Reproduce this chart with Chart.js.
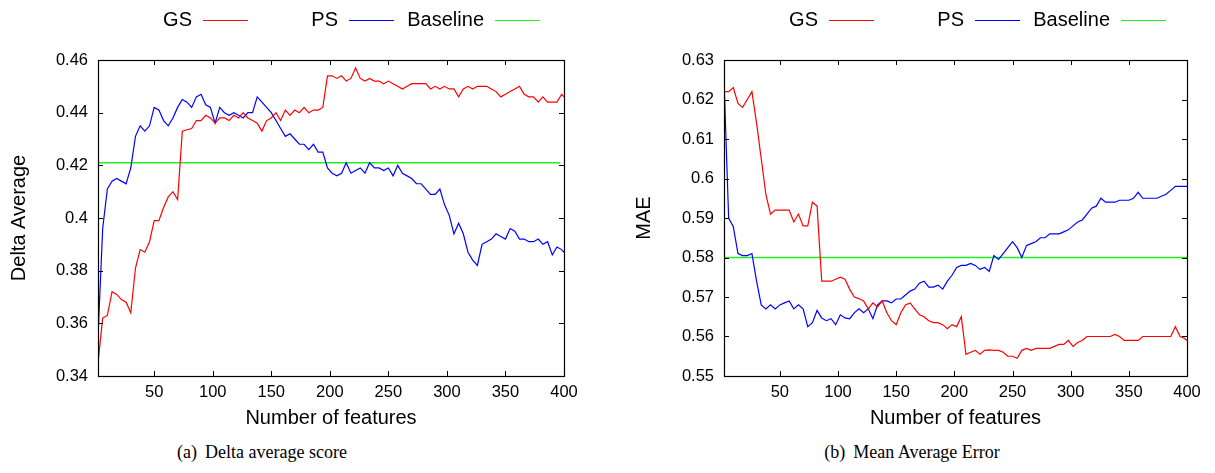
<!DOCTYPE html>
<html>
<head>
<meta charset="utf-8">
<script src="https://cdn.jsdelivr.net/npm/chart.js@4/dist/chart.umd.min.js"></script>
<style>
    body { margin: 0; background: #fff; width: 1215px; height: 473px; position: relative; overflow: hidden; }
    .box { position: absolute; top: 0; height: 440px; }
    .caption { position: absolute; top: 442px; width: 400px; text-align: center; line-height: 20px;
               font-family: "Liberation Serif", "Times New Roman", serif; font-size: 18px; color: #000; }
</style>
</head>
<body>
<div class="box" style="left:0;width:607px"><canvas id="delta-chart"></canvas></div>
<div class="box" style="left:607px;width:608px"><canvas id="mae-chart"></canvas></div>
<div class="caption" style="left:62px">(a)&nbsp;&thinsp;Delta average score</div>
<div class="caption" style="left:712px">(b)&nbsp;&thinsp;Mean Average Error</div>
<script>
// number of features: 2, 6, 10, ... 398, then 400
const features = Array.from({ length: 100 }, (_, i) => 2 + 4 * i).concat([400]);
const xTicks = [50, 100, 150, 200, 250, 300, 350, 400];

const deltaYTicks = ['0.34', '0.36', '0.38', '0.4', '0.42', '0.44', '0.46'];
const deltaBaseline = 0.421;
const deltaGS = [
    0.345, 0.362, 0.363, 0.372, 0.371, 0.369, 0.368, 0.364, 0.381, 0.388,
    0.387, 0.391, 0.399, 0.399, 0.404, 0.408, 0.410, 0.407, 0.433, 0.4335,
    0.434, 0.437, 0.437, 0.439, 0.438, 0.436, 0.438, 0.438, 0.437, 0.439,
    0.438, 0.440, 0.438, 0.437, 0.436, 0.433, 0.437, 0.438, 0.440, 0.437,
    0.441, 0.439, 0.441, 0.440, 0.442, 0.440, 0.441, 0.441, 0.442, 0.454,
    0.454, 0.453, 0.454, 0.452, 0.453, 0.457, 0.453, 0.452, 0.453, 0.452,
    0.452, 0.451, 0.452, 0.451, 0.450, 0.449, 0.450, 0.451, 0.451, 0.451,
    0.451, 0.449, 0.450, 0.449, 0.450, 0.449, 0.449, 0.446, 0.449, 0.450,
    0.449, 0.450, 0.450, 0.450, 0.449, 0.448, 0.446, 0.447, 0.448, 0.449,
    0.450, 0.447, 0.446, 0.446, 0.444, 0.446, 0.444, 0.444, 0.444, 0.447,
    0.446
];
const deltaPS = [
    0.355, 0.396, 0.411, 0.414, 0.415, 0.414, 0.413, 0.419, 0.431, 0.435,
    0.433, 0.435, 0.442, 0.441, 0.437, 0.435, 0.438, 0.442, 0.445, 0.444,
    0.442, 0.446, 0.447, 0.443, 0.442, 0.436, 0.442, 0.440, 0.439, 0.440,
    0.439, 0.438, 0.440, 0.440, 0.446, 0.444, 0.442, 0.440, 0.437, 0.434,
    0.431, 0.432, 0.430, 0.428, 0.428, 0.426, 0.428, 0.425, 0.425, 0.419,
    0.417, 0.416, 0.417, 0.421, 0.417, 0.418, 0.419, 0.417, 0.421, 0.419,
    0.419, 0.418, 0.419, 0.416, 0.420, 0.417, 0.416, 0.415, 0.413, 0.413,
    0.411, 0.409, 0.409, 0.411, 0.405, 0.401, 0.394, 0.398, 0.394, 0.387,
    0.384, 0.382, 0.390, 0.391, 0.392, 0.394, 0.393, 0.392, 0.396, 0.395,
    0.392, 0.392, 0.391, 0.391, 0.392, 0.390, 0.391, 0.386, 0.389, 0.388,
    0.387
];

const maeYTicks = ['0.55', '0.56', '0.57', '0.58', '0.59', '0.6', '0.61', '0.62', '0.63'];
const maeBaseline = 0.58;
const maeGS = [
    0.622, 0.622, 0.623, 0.619, 0.618, 0.620, 0.622, 0.614, 0.605, 0.596,
    0.591, 0.592, 0.592, 0.592, 0.592, 0.589, 0.591, 0.588, 0.588, 0.594,
    0.593, 0.574, 0.574, 0.574, 0.5745, 0.575, 0.5745, 0.572, 0.570, 0.5696,
    0.569, 0.567, 0.5685, 0.5675, 0.569, 0.566, 0.564, 0.563, 0.566, 0.568,
    0.5685, 0.567, 0.5655, 0.565, 0.564, 0.5635, 0.5635, 0.563, 0.562, 0.563,
    0.5625, 0.565, 0.5555, 0.556, 0.5565, 0.5555, 0.5565, 0.5566, 0.5565, 0.5565,
    0.556, 0.555, 0.555, 0.5545, 0.5565, 0.557, 0.5565, 0.557, 0.557, 0.557,
    0.557, 0.5575, 0.558, 0.558, 0.559, 0.5575, 0.5585, 0.559, 0.560, 0.560,
    0.560, 0.560, 0.560, 0.560, 0.5605, 0.560, 0.559, 0.559, 0.559, 0.559,
    0.560, 0.560, 0.560, 0.560, 0.560, 0.560, 0.560, 0.5625, 0.560, 0.5595,
    0.559
];
const maePS = [
    0.625, 0.590, 0.5878, 0.581, 0.5805, 0.5805, 0.581, 0.574, 0.568, 0.567,
    0.568, 0.567, 0.568, 0.5685, 0.569, 0.567, 0.568, 0.567, 0.5625, 0.5635,
    0.5666, 0.5647, 0.564, 0.5645, 0.563, 0.5655, 0.5647, 0.5645, 0.566, 0.567,
    0.566, 0.567, 0.5645, 0.568, 0.569, 0.569, 0.5685, 0.5695, 0.5695, 0.5705,
    0.5715, 0.572, 0.5735, 0.574, 0.5725, 0.5725, 0.573, 0.572, 0.574, 0.5755,
    0.5775, 0.578, 0.578, 0.5785, 0.578, 0.577, 0.5775, 0.5765, 0.5805, 0.5795,
    0.581, 0.5825, 0.584, 0.5825, 0.580, 0.583, 0.5835, 0.584, 0.585, 0.585,
    0.586, 0.586, 0.586, 0.5865, 0.587, 0.588, 0.589, 0.5895, 0.591, 0.5925,
    0.593, 0.595, 0.594, 0.594, 0.594, 0.5945, 0.5945, 0.5945, 0.595, 0.5965,
    0.595, 0.595, 0.595, 0.595, 0.5955, 0.596, 0.597, 0.598, 0.598, 0.598,
    0.598
];

Chart.defaults.font.family = '"Liberation Sans", Arial, Helvetica, sans-serif';
Chart.defaults.color = '#000';

// gnuplot style key: label first, then a short sample of the line
const keyPlugin = {
    id: 'gnuplotKey',
    afterDraw(chart) {
        const { ctx, chartArea } = chart;
        ctx.save();
        ctx.font = '20px "Liberation Sans", Arial, sans-serif';
        ctx.textAlign = 'right';
        ctx.textBaseline = 'middle';
        chart.data.datasets.forEach((ds, i) => {
            const x = chartArea.left + 94 + 146 * i;
            ctx.fillStyle = '#000';
            ctx.fillText(ds.label, x, 20);
            ctx.strokeStyle = ds.borderColor;
            ctx.lineWidth = 1.2;
            ctx.beginPath();
            ctx.moveTo(x + 11, 20.5);
            ctx.lineTo(x + 56, 20.5);
            ctx.stroke();
        });
        ctx.restore();
    }
};

// border box and inward tick marks on all four sides
const framePlugin = {
    id: 'frame',
    afterDraw(chart) {
        const { ctx, chartArea: a, scales } = chart;
        const len = 5;
        ctx.save();
        ctx.strokeStyle = '#000';
        ctx.lineWidth = 1;
        ctx.beginPath();
        scales.x.ticks.forEach(t => {
            const px = Math.round(scales.x.getPixelForValue(t.value)) + 0.5;
            ctx.moveTo(px, a.bottom); ctx.lineTo(px, a.bottom - len);
            ctx.moveTo(px, a.top); ctx.lineTo(px, a.top + len);
        });
        scales.y.ticks.forEach(t => {
            const py = Math.round(scales.y.getPixelForValue(t.value)) + 0.5;
            ctx.moveTo(a.left, py); ctx.lineTo(a.left + len, py);
            ctx.moveTo(a.right, py); ctx.lineTo(a.right - len, py);
        });
        ctx.stroke();
        ctx.lineWidth = 1.2;
        ctx.strokeRect(Math.round(a.left) + 0.5, Math.round(a.top) + 0.5,
            Math.round(a.right - a.left), Math.round(a.bottom - a.top));
        ctx.restore();
    }
};

const makeChart = (id, opt) => {
    const series = (vals) => features.map((x, i) => ({ x, y: vals[i] }));
    return new Chart(document.getElementById(id), {
        type: 'line',
        data: {
            datasets: [{
                label: 'GS',
                borderColor: '#ff0000',
                borderWidth: 1.2,
                data: series(opt.gs),
            }, {
                label: 'PS',
                borderColor: '#0000ff',
                borderWidth: 1.2,
                data: series(opt.ps),
            }, {
                label: 'Baseline',
                borderColor: '#22ee22',
                borderWidth: 1.6,
                data: [{ x: features[0], y: opt.baseline }, { x: opt.baselineEnd, y: opt.baseline }],
            }]
        },
        options: {
            responsive: true,
            maintainAspectRatio: false,
            animation: false,
            events: [],
            layout: { padding: { top: 60, right: opt.padRight, bottom: 0, left: 0 } },
            elements: {
                point: { radius: 0 },
                line: { tension: 0 }
            },
            plugins: {
                legend: { display: false },
                title: { display: false },
                tooltip: { enabled: false }
            },
            scales: {
                x: {
                    type: 'linear',
                    min: 2,
                    max: 400,
                    grid: { display: false, drawTicks: false },
                    border: { display: false },
                    ticks: { padding: 7, font: { size: 16.5 }, maxRotation: 0 },
                    afterBuildTicks: (scale) => { scale.ticks = xTicks.map(v => ({ value: v })); },
                    afterFit: (scale) => { scale.height = 64; },
                    title: {
                        display: true,
                        text: 'Number of features',
                        font: { size: 20 },
                        padding: { top: 0, bottom: 10 }
                    }
                },
                y: {
                    min: Number(opt.yTicks[0]),
                    max: Number(opt.yTicks[opt.yTicks.length - 1]),
                    grid: { display: false, drawTicks: false },
                    border: { display: false },
                    ticks: {
                        padding: 10,
                        font: { size: 16.5 },
                        callback: (v) => String(+v.toFixed(2))
                    },
                    afterBuildTicks: (scale) => { scale.ticks = opt.yTicks.map(v => ({ value: Number(v) })); },
                    afterFit: (scale) => { scale.width = opt.axisLeft; },
                    title: {
                        display: true,
                        text: opt.yTitle,
                        font: { size: 20 },
                        padding: { top: opt.titlePad, bottom: 0 }
                    }
                }
            }
        },
        plugins: [keyPlugin, framePlugin]
    });
};

makeChart('delta-chart', {
    gs: deltaGS, ps: deltaPS, baseline: deltaBaseline, baselineEnd: 397,
    yTicks: deltaYTicks, yTitle: 'Delta Average',
    axisLeft: 98, padRight: 43, titlePad: 7
});

makeChart('mae-chart', {
    gs: maeGS, ps: maePS, baseline: maeBaseline, baselineEnd: 400,
    yTicks: maeYTicks, yTitle: 'MAE',
    axisLeft: 117, padRight: 28, titlePad: 25
});
</script>
</body>
</html>
